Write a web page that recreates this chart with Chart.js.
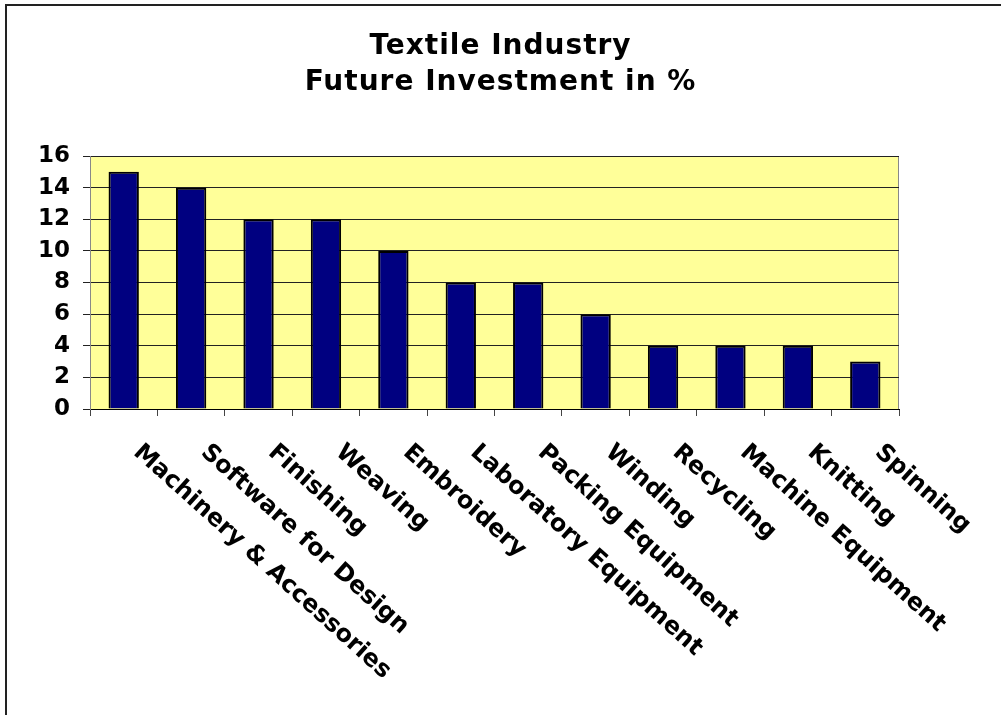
<!DOCTYPE html>
<html>
<head>
<meta charset="utf-8">
<script src="https://cdn.jsdelivr.net/npm/chart.js@4"></script>
<style>
  html, body { margin: 0; padding: 0; background: #fff; overflow: hidden; }
  #wrap { width: 1001px; height: 715px; }
</style>
</head>
<body>
<div id="wrap"><canvas id="chart"></canvas></div>
<script>
const categories = [
  "Machinery & Accessories", "Software for Design", "Finishing", "Weaving",
  "Embroidery", "Laboratory Equipment", "Packing Equipment", "Winding",
  "Recycling", "Machine Equipment", "Knitting", "Spinning"
];
const investment = [15, 14, 12, 12, 10, 8, 8, 6, 4, 4, 4, 3];
const yTicks = [0, 2, 4, 6, 8, 10, 12, 14, 16];
const titleLines = ["Textile Industry", "Future Investment in %"];

const FONT = "'DejaVu Sans', Verdana, sans-serif";
const LABEL_ANGLE = 42 * Math.PI / 180;

// frame, yellow plot area, title and the slanted category names
const decorations = {
  id: 'decorations',
  beforeDraw(chart) {
    const ctx = chart.ctx;
    const area = chart.chartArea;
    ctx.save();
    ctx.fillStyle = '#fff';
    ctx.fillRect(0, 0, chart.width, chart.height);
    // outer frame: only the left and top edges fall inside the page
    ctx.strokeStyle = '#222';
    ctx.lineWidth = 2;
    ctx.beginPath();
    ctx.moveTo(6, chart.height);
    ctx.lineTo(6, 5);
    ctx.lineTo(chart.width, 5);
    ctx.stroke();

    ctx.fillStyle = '#FFFF99';
    ctx.fillRect(area.left, area.top, area.right - area.left, area.bottom - area.top);
    ctx.strokeStyle = '#888';
    ctx.lineWidth = 1;
    ctx.strokeRect(area.left + 0.5, area.top + 0.5, area.right - area.left - 1, area.bottom - area.top);

    ctx.fillStyle = '#000';
    ctx.font = "bold 28px " + FONT;
    ctx.letterSpacing = '1px';
    ctx.textAlign = 'center';
    ctx.textBaseline = 'alphabetic';
    ctx.fillText(titleLines[0], chart.width / 2, 54);
    ctx.fillText(titleLines[1], chart.width / 2, 90);
    ctx.restore();
  },
  afterDraw(chart) {
    const ctx = chart.ctx;
    const xs = chart.scales.x;
    ctx.save();
    ctx.fillStyle = '#000';
    ctx.font = "bold 24px " + FONT;
    ctx.textAlign = 'left';
    ctx.textBaseline = 'middle';
    categories.forEach((name, i) => {
      const x = xs.getPixelForValue(i);
      ctx.save();
      ctx.translate(x + 13, xs.bottom + 33);
      ctx.rotate(LABEL_ANGLE);
      ctx.fillText(name, 0, 0);
      ctx.restore();
    });
    ctx.restore();
  }
};

new Chart(document.getElementById('chart'), {
  type: 'bar',
  data: {
    labels: categories,
    datasets: [{
      data: investment,
      backgroundColor: '#000080',
      borderColor: '#000',
      borderWidth: 2,
      barPercentage: 0.45,
      categoryPercentage: 1
    }]
  },
  options: {
    responsive: true,
    maintainAspectRatio: false,
    animation: false,
    layout: { padding: { top: 156, right: 102, bottom: 299, left: 0 } },
    plugins: {
      legend: { display: false },
      title: { display: false },
      tooltip: { enabled: false }
    },
    scales: {
      x: {
        grid: { offset: true, drawOnChartArea: false, tickLength: 7, color: '#444' },
        border: { color: '#000', width: 1 },
        ticks: { display: false }
      },
      y: {
        min: 0,
        max: 16,
        afterFit(scale) { scale.width = 90; },
        afterBuildTicks(scale) { scale.ticks = yTicks.map(v => ({ value: v })); },
        grid: { color: '#222', tickLength: 7 },
        border: { color: '#888', width: 1 },
        ticks: {
          autoSkip: false,
          padding: 13,
          color: '#000',
          font: { family: FONT, size: 23, weight: 'bold' }
        }
      }
    }
  },
  plugins: [decorations]
});
</script>
</body>
</html>
